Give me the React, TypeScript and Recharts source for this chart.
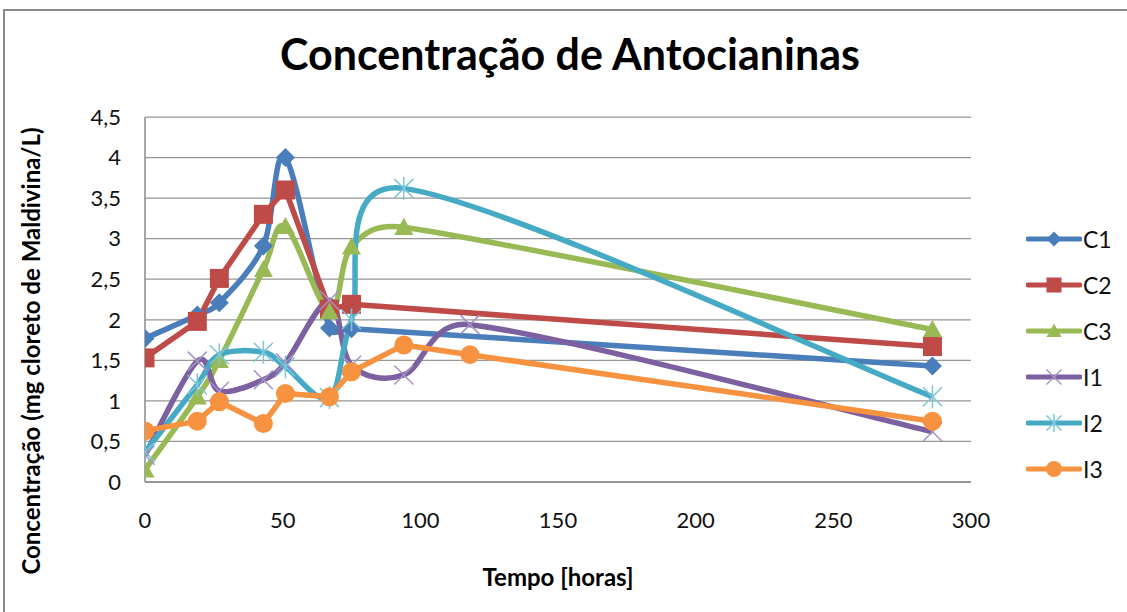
import React from 'react';
import { LineChart, Line, XAxis, YAxis, CartesianGrid, Legend } from 'recharts';

// tempo (horas) e concentração de cada amostra
const xTicks = [0, 50, 100, 150, 200, 250, 300];
const yTicks = [0, 0.5, 1, 1.5, 2, 2.5, 3, 3.5, 4, 4.5];

const c1Hours = [0, 19, 27, 43, 51, 67, 75, 286];
const c1Values = [1.77, 2.06, 2.21, 2.91, 4.0, 1.9, 1.89, 1.43];

const c2Hours = [0, 19, 27, 43, 51, 67, 75, 286];
const c2Values = [1.53, 1.98, 2.51, 3.3, 3.6, 2.13, 2.19, 1.67];

const c3Hours = [0, 19, 27, 43, 51, 67, 75, 94, 286];
const c3Values = [0.15, 1.05, 1.5, 2.62, 3.15, 2.1, 2.9, 3.14, 1.88];

const i1Hours = [0, 19, 27, 43, 51, 67, 75, 94, 118, 286];
const i1Values = [0.33, 1.49, 1.12, 1.26, 1.47, 2.24, 1.44, 1.32, 1.94, 0.62];

const i2Hours = [0, 19, 27, 43, 51, 67, 75, 94, 286];
const i2Values = [0.37, 1.2, 1.57, 1.6, 1.42, 1.04, 2.0, 3.62, 1.05];

const i3Hours = [0, 19, 27, 43, 51, 67, 75, 94, 118, 286];
const i3Values = [0.63, 0.75, 0.99, 0.72, 1.09, 1.05, 1.36, 1.69, 1.57, 0.75];

type Shape = 'diamond' | 'square' | 'triangle' | 'x' | 'star' | 'circle';

// curva suavizada parecida com a do Excel (bezier com braço limitado)
const excelSmooth = (context: any) => {
  let pts: number[][] = [];
  return {
    areaStart() {},
    areaEnd() {},
    lineStart() {
      pts = [];
    },
    point(x: number, y: number) {
      pts.push([+x, +y]);
    },
    lineEnd() {
      const n = pts.length;
      if (!n) return;
      context.moveTo(pts[0][0], pts[0][1]);
      for (let i = 0; i < n - 1; i++) {
        const p0 = pts[Math.max(i - 1, 0)];
        const p1 = pts[i];
        const p2 = pts[i + 1];
        const p3 = pts[Math.min(i + 2, n - 1)];
        const seg = Math.hypot(p2[0] - p1[0], p2[1] - p1[1]);
        const arm = (a: number[], b: number[]) => {
          const dx = b[0] - a[0];
          const dy = b[1] - a[1];
          const len = Math.hypot(dx, dy);
          if (!len) return [0, 0];
          const l = Math.min(len / 6, seg / 2);
          return [(dx / len) * l, (dy / len) * l];
        };
        const a1 = arm(p0, p2);
        const a2 = arm(p1, p3);
        context.bezierCurveTo(p1[0] + a1[0], p1[1] + a1[1], p2[0] - a2[0], p2[1] - a2[1], p2[0], p2[1]);
      }
    },
  };
};

const toPoints = (hours: number[], values: number[]) => hours.map((h, i) => ({ x: h, y: values[i] }));

const series = [
  { name: 'C1', data: toPoints(c1Hours, c1Values), color: '#4A7EBB', markColor: '#4A7EBB', shape: 'diamond' as Shape, smooth: true },
  { name: 'C2', data: toPoints(c2Hours, c2Values), color: '#BE4B48', markColor: '#BE4B48', shape: 'square' as Shape, smooth: false },
  { name: 'C3', data: toPoints(c3Hours, c3Values), color: '#98B954', markColor: '#98B954', shape: 'triangle' as Shape, smooth: true },
  { name: 'I1', data: toPoints(i1Hours, i1Values), color: '#7D60A0', markColor: '#A592C4', shape: 'x' as Shape, smooth: true },
  { name: 'I2', data: toPoints(i2Hours, i2Values), color: '#46AAC5', markColor: '#7CC6DA', shape: 'star' as Shape, smooth: true },
  { name: 'I3', data: toPoints(i3Hours, i3Values), color: '#F69240', markColor: '#F69240', shape: 'circle' as Shape, smooth: false },
];

const Marker = ({ shape, cx, cy, color, s }: { shape: Shape; cx: number; cy: number; color: string; s: number }) => {
  switch (shape) {
    case 'diamond':
      return <polygon points={`${cx},${cy - s} ${cx + s},${cy} ${cx},${cy + s} ${cx - s},${cy}`} fill={color} />;
    case 'square':
      return <rect x={cx - s} y={cy - s} width={2 * s} height={2 * s} fill={color} />;
    case 'triangle':
      return <polygon points={`${cx},${cy - s} ${cx + s},${cy + s * 0.8} ${cx - s},${cy + s * 0.8}`} fill={color} />;
    case 'x':
      return (
        <g stroke={color} strokeWidth={1.5}>
          <line x1={cx - s} y1={cy - s} x2={cx + s} y2={cy + s} />
          <line x1={cx - s} y1={cy + s} x2={cx + s} y2={cy - s} />
        </g>
      );
    case 'star':
      return (
        <g stroke={color} strokeWidth={1.5}>
          <line x1={cx - s} y1={cy - s} x2={cx + s} y2={cy + s} />
          <line x1={cx - s} y1={cy + s} x2={cx + s} y2={cy - s} />
          <line x1={cx} y1={cy - s * 1.2} x2={cx} y2={cy + s * 1.2} />
        </g>
      );
    default:
      return <circle cx={cx} cy={cy} r={s} fill={color} />;
  }
};

const LegendBox = () => (
  <div style={{ fontFamily: 'Lato, sans-serif', fontSize: 23, color: '#111' }}>
    {series.map(s => (
      <div key={s.name} style={{ display: 'flex', alignItems: 'center', height: 46 }}>
        <svg width={56} height={24} style={{ display: 'block' }}>
          <line x1={2} y1={12} x2={54} y2={12} stroke={s.color} strokeWidth={5} strokeLinecap="round" />
          <Marker shape={s.shape} cx={28} cy={12} color={s.markColor} s={s.shape === 'circle' ? 8 : 7.5} />
        </svg>
        <span style={{ marginLeft: 1 }}>{s.name}</span>
      </div>
    ))}
  </div>
);

const App: React.FC = () => {
  return (
    <div style={{ position: 'absolute', left: 0, top: 0, width: 1127, height: 612, overflow: 'hidden', background: '#fff', fontFamily: 'Lato, sans-serif' }}>
      <div style={{ position: 'absolute', left: 3, top: 9, width: 1140, height: 620, border: '2px solid #8a8a8a' }} />
      <div style={{ position: 'absolute', left: 0, top: 28, width: 1140, textAlign: 'center', fontSize: 43, fontWeight: 700, color: '#000' }}>
        Concentração de Antocianinas
      </div>
      <div style={{ position: 'absolute', left: 0, top: 0, width: 1127, height: 612 }}>
        <LineChart width={1127} height={612} margin={{ top: 117, right: 156, left: 105, bottom: 90 }}>
          <CartesianGrid vertical={false} stroke="#969696" strokeWidth={1.25} />
          <XAxis
            type="number"
            dataKey="x"
            domain={[0, 300]}
            ticks={xTicks}
            height={40}
            tickLine={false}
            tickSize={0}
            tickMargin={30}
            axisLine={{ stroke: '#8a8a8a', strokeWidth: 1.5 }}
            tick={{ fill: '#111', fontSize: 22, fontFamily: 'Lato, sans-serif' }}
            allowDataOverflow
          />
          <YAxis
            type="number"
            domain={[0, 4.5]}
            ticks={yTicks}
            width={40}
            tickLine={false}
            tickSize={0}
            tickMargin={24}
            axisLine={{ stroke: '#8a8a8a', strokeWidth: 1.5 }}
            tick={{ fill: '#111', fontSize: 22, fontFamily: 'Lato, sans-serif' }}
            tickFormatter={(v: number) => String(v).replace('.', ',')}
            allowDataOverflow
          />
          <Legend
            layout="horizontal"
            verticalAlign="middle"
            align="center"
            wrapperStyle={{ left: 1026, top: 216, width: 100, height: 280 }}
            content={() => <LegendBox />}
          />
          {series.map(s => (
            <Line
              key={s.name}
              name={s.name}
              data={s.data}
              dataKey="y"
              type={s.smooth ? (excelSmooth as any) : 'linear'}
              stroke={s.color}
              strokeWidth={5.5}
              strokeLinejoin="round"
              isAnimationActive={false}
              activeDot={false}
              dot={(p: any) => (
                <g key={`${s.name}-${p.index}`}>
                  <Marker shape={s.shape} cx={p.cx} cy={p.cy} color={s.markColor} s={s.shape === 'circle' ? 9.5 : 9.5} />
                </g>
              )}
            />
          ))}
        </LineChart>
      </div>
      <div style={{ position: 'absolute', left: 558, top: 562, transform: 'translateX(-50%)', fontSize: 24, fontWeight: 700, color: '#000', whiteSpace: 'nowrap' }}>
        Tempo [horas]
      </div>
      <div
        style={{
          position: 'absolute',
          left: 30,
          top: 351,
          transform: 'translate(-50%, -50%) rotate(-90deg)',
          fontSize: 24,
          fontWeight: 700,
          color: '#000',
          whiteSpace: 'nowrap',
        }}
      >
        Concentração (mg cloreto de Maldivina/L)
      </div>
    </div>
  );
};

export default App;
